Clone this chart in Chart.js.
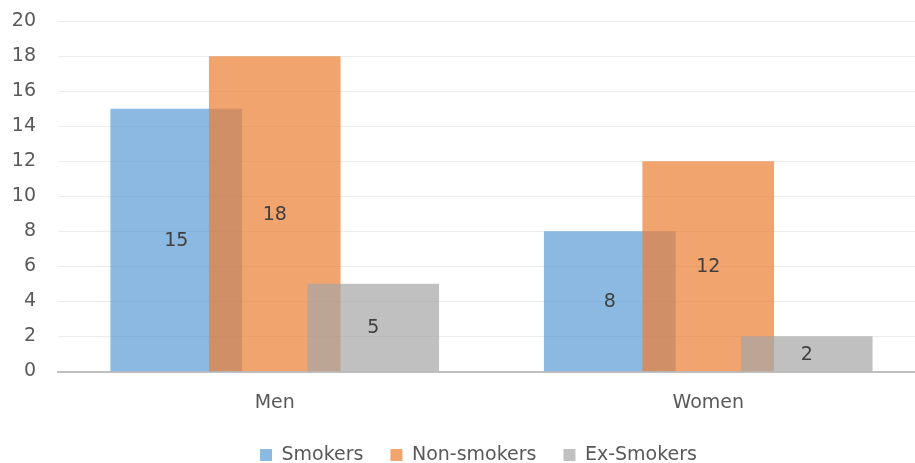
<!DOCTYPE html>
<html><head><meta charset="utf-8">
<script src="https://cdn.jsdelivr.net/npm/chart.js@4.4.1/dist/chart.umd.min.js"></script>
<style>html,body{margin:0;padding:0;background:#fff}#wrap{width:915px;height:463px;position:relative}</style>
</head><body><div id="wrap"><canvas id="c"></canvas></div>
<script>
// ---- data ----
const CATEGORIES = ['Men', 'Women'];
const SERIES = ['Smokers', 'Non-smokers', 'Ex-Smokers'];
const SMOKERS = [15, 8];
const NON_SMOKERS = [18, 12];
const EX_SMOKERS = [5, 2];
const Y_MIN = 0, Y_MAX = 20, Y_STEP = 2;

// ---- style ----
const COLORS = ['rgba(91,155,213,0.7)', 'rgba(237,125,49,0.7)', 'rgba(165,165,165,0.7)'];
const BAR_SHIFT = [-0.2272, 0, 0.2272];   // overlapped bar positions within a category
const FONT = 'DejaVu Sans';
const FS = 19;

const VALUES = [SMOKERS, NON_SMOKERS, EX_SMOKERS];
const datasets = SERIES.map((name, s) => ({
  label: name,
  data: VALUES[s].map((v, i) => ({ x: i + BAR_SHIFT[s], y: v })),
  backgroundColor: COLORS[s],
  borderWidth: 0,
  barThickness: 131,
  grouped: false,
  order: SERIES.length - s
}));

const valueLabels = {
  id: 'valueLabels',
  afterDatasetsDraw(chart) {
    const ctx = chart.ctx;
    ctx.save();
    ctx.font = FS + 'px "' + FONT + '"';
    ctx.fillStyle = '#404040';
    ctx.textAlign = 'center';
    ctx.textBaseline = 'middle';
    chart.data.datasets.forEach((ds, di) => {
      const meta = chart.getDatasetMeta(di);
      meta.data.forEach((el, i) => {
        ctx.fillText(String(VALUES[di][i]), el.x, (el.y + el.base) / 2 + 1);
      });
    });
    ctx.restore();
  }
};

const legendFix = {
  id: 'legendFix',
  afterInit(chart) {
    const lg = chart.legend;
    const orig = lg.fit.bind(lg);
    lg.fit = function () { orig(); this.height = 44.5; };
  },
  afterLayout(chart) {
    const lg = chart.legend;
    lg.left += 21;
    lg.right += 21;
  }
};

new Chart(document.getElementById('c'), {
  type: 'bar',
  data: { datasets },
  plugins: [valueLabels, legendFix],
  options: {
    responsive: true,
    maintainAspectRatio: false,
    animation: false,
    layout: { padding: { top: 0, right: 0, left: 0, bottom: 0 } },
    plugins: {
      tooltip: { enabled: false },
      legend: {
        position: 'bottom',
        reverse: true,
        labels: {
          font: { family: FONT, size: FS },
          color: '#595959',
          boxWidth: 12,
          boxHeight: 12,
          padding: 27
        }
      }
    },
    scales: {
      x: {
        type: 'linear',
        min: -0.5,
        max: 1.477,
        offset: false,
        afterBuildTicks(scale) { scale.ticks = CATEGORIES.map((c, i) => ({ value: i })); },
        afterFit(scale) { scale.height = 47; },
        ticks: {
          callback: (v) => CATEGORIES[v] !== undefined ? CATEGORIES[v] : '',
          font: { family: FONT, size: FS },
          color: '#595959',
          padding: 20,
          maxRotation: 0,
          autoSkip: false
        },
        grid: { display: false, drawTicks: false },
        border: { display: true, color: '#BFBFBF', width: 2 }
      },
      y: {
        min: Y_MIN,
        max: Y_MAX,
        afterFit(scale) { scale.width = 58; scale.paddingTop = 21.5; scale.paddingBottom = 0; },
        ticks: {
          stepSize: Y_STEP,
          font: { family: FONT, size: FS },
          color: '#595959',
          padding: 22
        },
        grid: { color: '#ECECEC', lineWidth: 1, drawTicks: false },
        border: { display: false }
      }
    }
  }
});
</script>
</body></html>
